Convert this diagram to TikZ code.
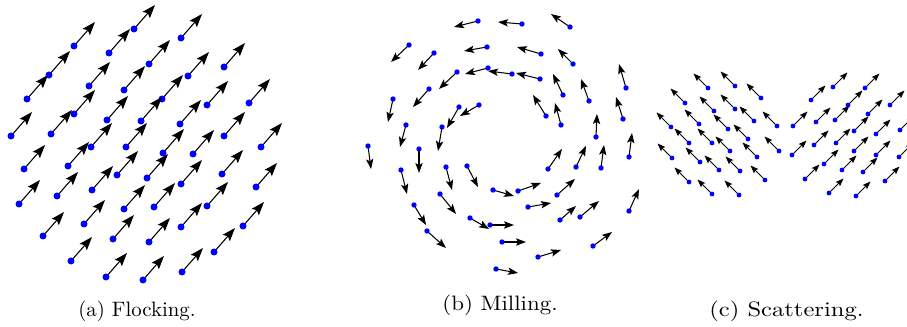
\documentclass[tikz,border=0pt]{standalone}
\usetikzlibrary{arrows.meta}
\definecolor{AgentBlue}{RGB}{0, 0, 255}

\begin{document}
\begin{tikzpicture}[
    x=0.48pt, y=-0.48pt,
    % Define styles for the elements
    agent/.style={
        fill=AgentBlue          % Blue agent position
    },
    heading a/.style={
        -{Stealth[length=6.4pt, width=4.6pt, inset=1.2pt]},
        line width=0.5pt
    },
    heading b/.style={
        -{Stealth[length=4.8pt, width=3.5pt, inset=1pt]},
        line width=0.5pt
    },
    heading c/.style={
        -{Stealth[length=3.9pt, width=2.9pt, inset=0.8pt]},
        line width=0.45pt
    },
    caption/.style={
        anchor=base,
        font=\normalsize
    }
]

    \useasboundingbox (0,0) rectangle (907,327);

    \begin{scope}
    \clip (0,0) rectangle (907,327);

    % --- Panel (a): Flocking ---
    % All agents share one heading
    \foreach \x/\y in {27/99, 49/75, 74/46, 109/53, 134/29, 181/38, 89/86,
        149/64, 188/76, 224/67, 124/90, 162/99, 207/105, 249/103, 11/136,
        51/134, 74/114, 107/120, 141/121, 180/124, 224/136, 261/147, 91/147,
        126/147, 163/153, 193/154, 24/169, 68/166, 117/175, 147/178, 181/184,
        222/174, 256/187, 19/204, 57/196, 92/190, 124/209, 154/207, 207/206,
        43/236, 84/224, 113/239, 149/242, 181/227, 243/226, 71/261, 106/277,
        143/280, 182/272, 214/252} {
        \draw[heading a] (\x,\y) -- ++(21,-24);
        \fill[agent] (\x,\y) circle[radius=3.5];
    }

    % --- Panel (b): Milling ---
    % Agent position / arrow tip
    \foreach \x/\y/\u/\v in {478/21/454/27, 522/24/498/22, 570/27/551/14,
        409/45/391/62, 487/47/464/51, 541/54/517/47, 573/64/558/49,
        434/53/418/70, 457/72/439/89, 488/68/465/74, 512/74/488/71,
        540/79/516/73, 563/95/553/74, 589/101/581/79, 626/88/619/64,
        429/89/413/107, 393/99/388/122, 459/107/447/128, 479/105/460/116,
        546/116/533/95, 561/125/555/103, 623/119/616/97, 596/137/597/114,
        406/125/400/147, 442/127/438/151, 368/146/371/169, 419/149/419/173,
        601/168/604/145, 629/157/632/133, 548/169/562/149, 576/167/586/146,
        401/170/407/194, 446/167/452/190, 467/166/478/187, 493/190/514/196,
        518/191/541/183, 557/195/575/179, 440/194/456/214, 528/207/551/203,
        560/220/576/206, 580/217/599/201, 629/211/639/189, 414/205/426/225,
        470/218/489/229, 490/225/514/225, 427/231/446/248, 502/242/526/242,
        593/246/612/232, 538/257/561/250, 496/269/518/273} {
        \draw[heading b] (\x,\y) -- (\u,\v);
        \fill[agent] (\x,\y) circle[radius=2.7];
    }

    % --- Panel (c): Scattering ---
    % Left group heads up-left
    \foreach \x/\y in {708/88, 735/86, 761/98, 685/103, 714/111, 735/109,
        754/121, 777/126, 671/127, 699/124, 728/129, 689/143, 712/143,
        730/151, 748/139, 779/151, 672/158, 700/162, 719/170, 740/171,
        757/157, 765/180, 689/182, 712/194, 739/195} {
        \draw[heading c] (\x,\y) -- ++(-14.5,-14.5);
        \fill[agent] (\x,\y) circle[radius=2.4];
    }
    % Right group heads up-right
    \foreach \x/\y in {793/126, 792/155, 811/100, 816/122, 833/87, 835/120,
        848/105, 865/88, 868/114, 814/145, 836/143, 854/131, 876/134,
        890/105, 900/130, 824/164, 842/170, 854/151, 863/172, 876/155,
        899/157, 805/179, 829/193, 856/196, 885/181} {
        \draw[heading c] (\x,\y) -- ++(14.5,-14.5);
        \fill[agent] (\x,\y) circle[radius=2.4];
    }
    \end{scope}

    % --- Captions ---
    \node[caption] (capA) at (137,316.5) {(a) Flocking.};
    \node[caption, xscale=1.1, transform shape] (capB) at (500,310.5) {(b) Milling.};
    \node[caption, xscale=1.18, transform shape] (capC) at (786.5,316.5) {(c) Scattering.};

\end{tikzpicture}
\end{document}
